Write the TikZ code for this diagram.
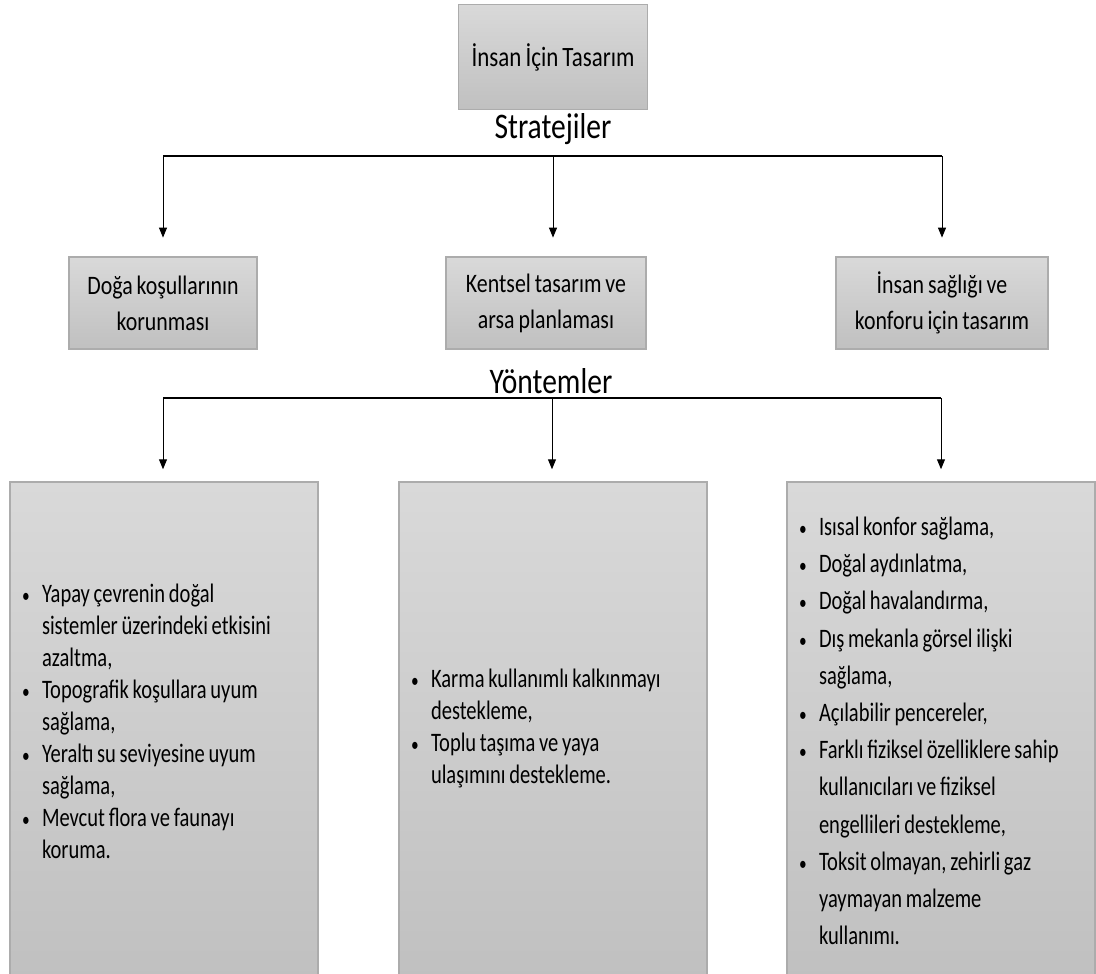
\documentclass[tikz,border=0pt]{standalone}
\usepackage{fontspec}
\setmainfont{Carlito}[FakeStretch=0.82, WordSpace=0.8]
\newfontfamily\listefont{Carlito}[FakeStretch=0.77, WordSpace=0.8]
\usepackage{tikz}
\usetikzlibrary{arrows.meta, positioning, calc}

\definecolor{kutuust}{RGB}{217,217,217}
\definecolor{kutualt}{RGB}{192,192,192}
\definecolor{kutucizgi}{RGB}{172,172,172}

\newcommand{\madde}[1]{\par\rightskip=-20pt plus 1fil\parfillskip=0pt plus 1fil\hangindent=15pt\hangafter=1\noindent\makebox[15pt][l]{\fontsize{15}{15}\selectfont\textbullet}#1\par}
\newcommand{\maddeler}[2]{\parbox[c][373.5pt][c]{213pt}{#2\vspace*{#1}}}

\begin{document}
\begin{tikzpicture}[x=0.75pt, y=-0.75pt,
    kutu/.style={rectangle, draw=kutucizgi, line width=1.1pt, top color=kutuust, bottom color=kutualt, align=center, font=\fontsize{20}{27}\selectfont, inner sep=0pt},
    liste/.style={rectangle, draw=kutucizgi, line width=1.1pt, top color=kutuust, bottom color=kutualt, minimum width=231pt, minimum height=373.5pt, inner sep=0pt, font=\listefont\fontsize{20}{24}\selectfont},
    baslik/.style={font=\fontsize{27}{30}\selectfont, inner sep=0pt},
    hat/.style={line width=0.9pt},
    ok/.style={-{Triangle[length=7.5pt, width=6pt]}, line width=0.75pt}]

    \useasboundingbox (0,0) rectangle (1096,974);
    \clip (0,0) rectangle (1096,974);

    \node[kutu, minimum width=142pt, minimum height=79pt, font=\fontsize{21}{27}\selectfont] (insan) at (553,57) {İnsan İçin Tasarım};
    \node[baslik] (strateji) at (553,129) {Stratejiler};

    \node[kutu, minimum width=141pt, minimum height=69pt] (doga) at (163,303) {Doğa koşullarının\\korunması};
    \node[kutu, minimum width=150pt, minimum height=69pt] (kentsel) at (546,303) {Kentsel tasarım ve\\arsa planlaması};
    \node[kutu, minimum width=159pt, minimum height=69pt] (saglik) at (942,303) {İnsan sağlığı ve\\konforu için tasarım};

    \node[baslik] (yontem) at (551,381) {Yöntemler};

    \node[liste] (y1) at (164,731) {\maddeler{15pt}{%
        \madde{Yapay çevrenin doğal\newline sistemler üzerindeki etkisini\newline azaltma,}
        \madde{Topografik koşullara uyum\newline sağlama,}
        \madde{Yeraltı su seviyesine uyum\newline sağlama,}
        \madde{Mevcut flora ve faunayı\newline koruma.}}};
    \node[liste] (y2) at (553,731) {\maddeler{4.5pt}{%
        \madde{Karma kullanımlı kalkınmayı\newline destekleme,}
        \madde{Toplu taşıma ve yaya\newline ulaşımını destekleme.}}};
    \node[liste, font=\listefont\fontsize{20}{27.9}\selectfont] (y3) at (941,731) {\maddeler{0pt}{%
        \madde{Isısal konfor sağlama,}
        \madde{Doğal aydınlatma,}
        \madde{Doğal havalandırma,}
        \madde{Dış mekanla görsel ilişki\newline sağlama,}
        \madde{Açılabilir pencereler,}
        \madde{Farklı fiziksel özelliklere sahip\newline kullanıcıları ve fiziksel\newline engellileri destekleme,}
        \madde{Toksit olmayan, zehirli gaz\newline yaymayan malzeme\newline kullanımı.}}};

    \coordinate (s1) at (163,156);
    \coordinate (s2) at (553,156);
    \coordinate (s3) at (942,156);
    \draw[hat] (s1) -- (s3);
    \draw[ok, shorten >=14pt] (s1) -- (s1 |- doga.north);
    \draw[ok, shorten >=14pt] (s2) -- (s2 |- kentsel.north);
    \draw[ok, shorten >=14pt] (s3) -- (s3 |- saglik.north);

    \coordinate (m1) at (163,398);
    \coordinate (m2) at (552,398);
    \coordinate (m3) at (941,398);
    \draw[hat] (m1) -- (m3);
    \draw[ok, shorten >=9pt] (m1) -- (m1 |- y1.north);
    \draw[ok, shorten >=9pt] (m2) -- (m2 |- y2.north);
    \draw[ok, shorten >=9pt] (m3) -- (m3 |- y3.north);
\end{tikzpicture}
\end{document}
